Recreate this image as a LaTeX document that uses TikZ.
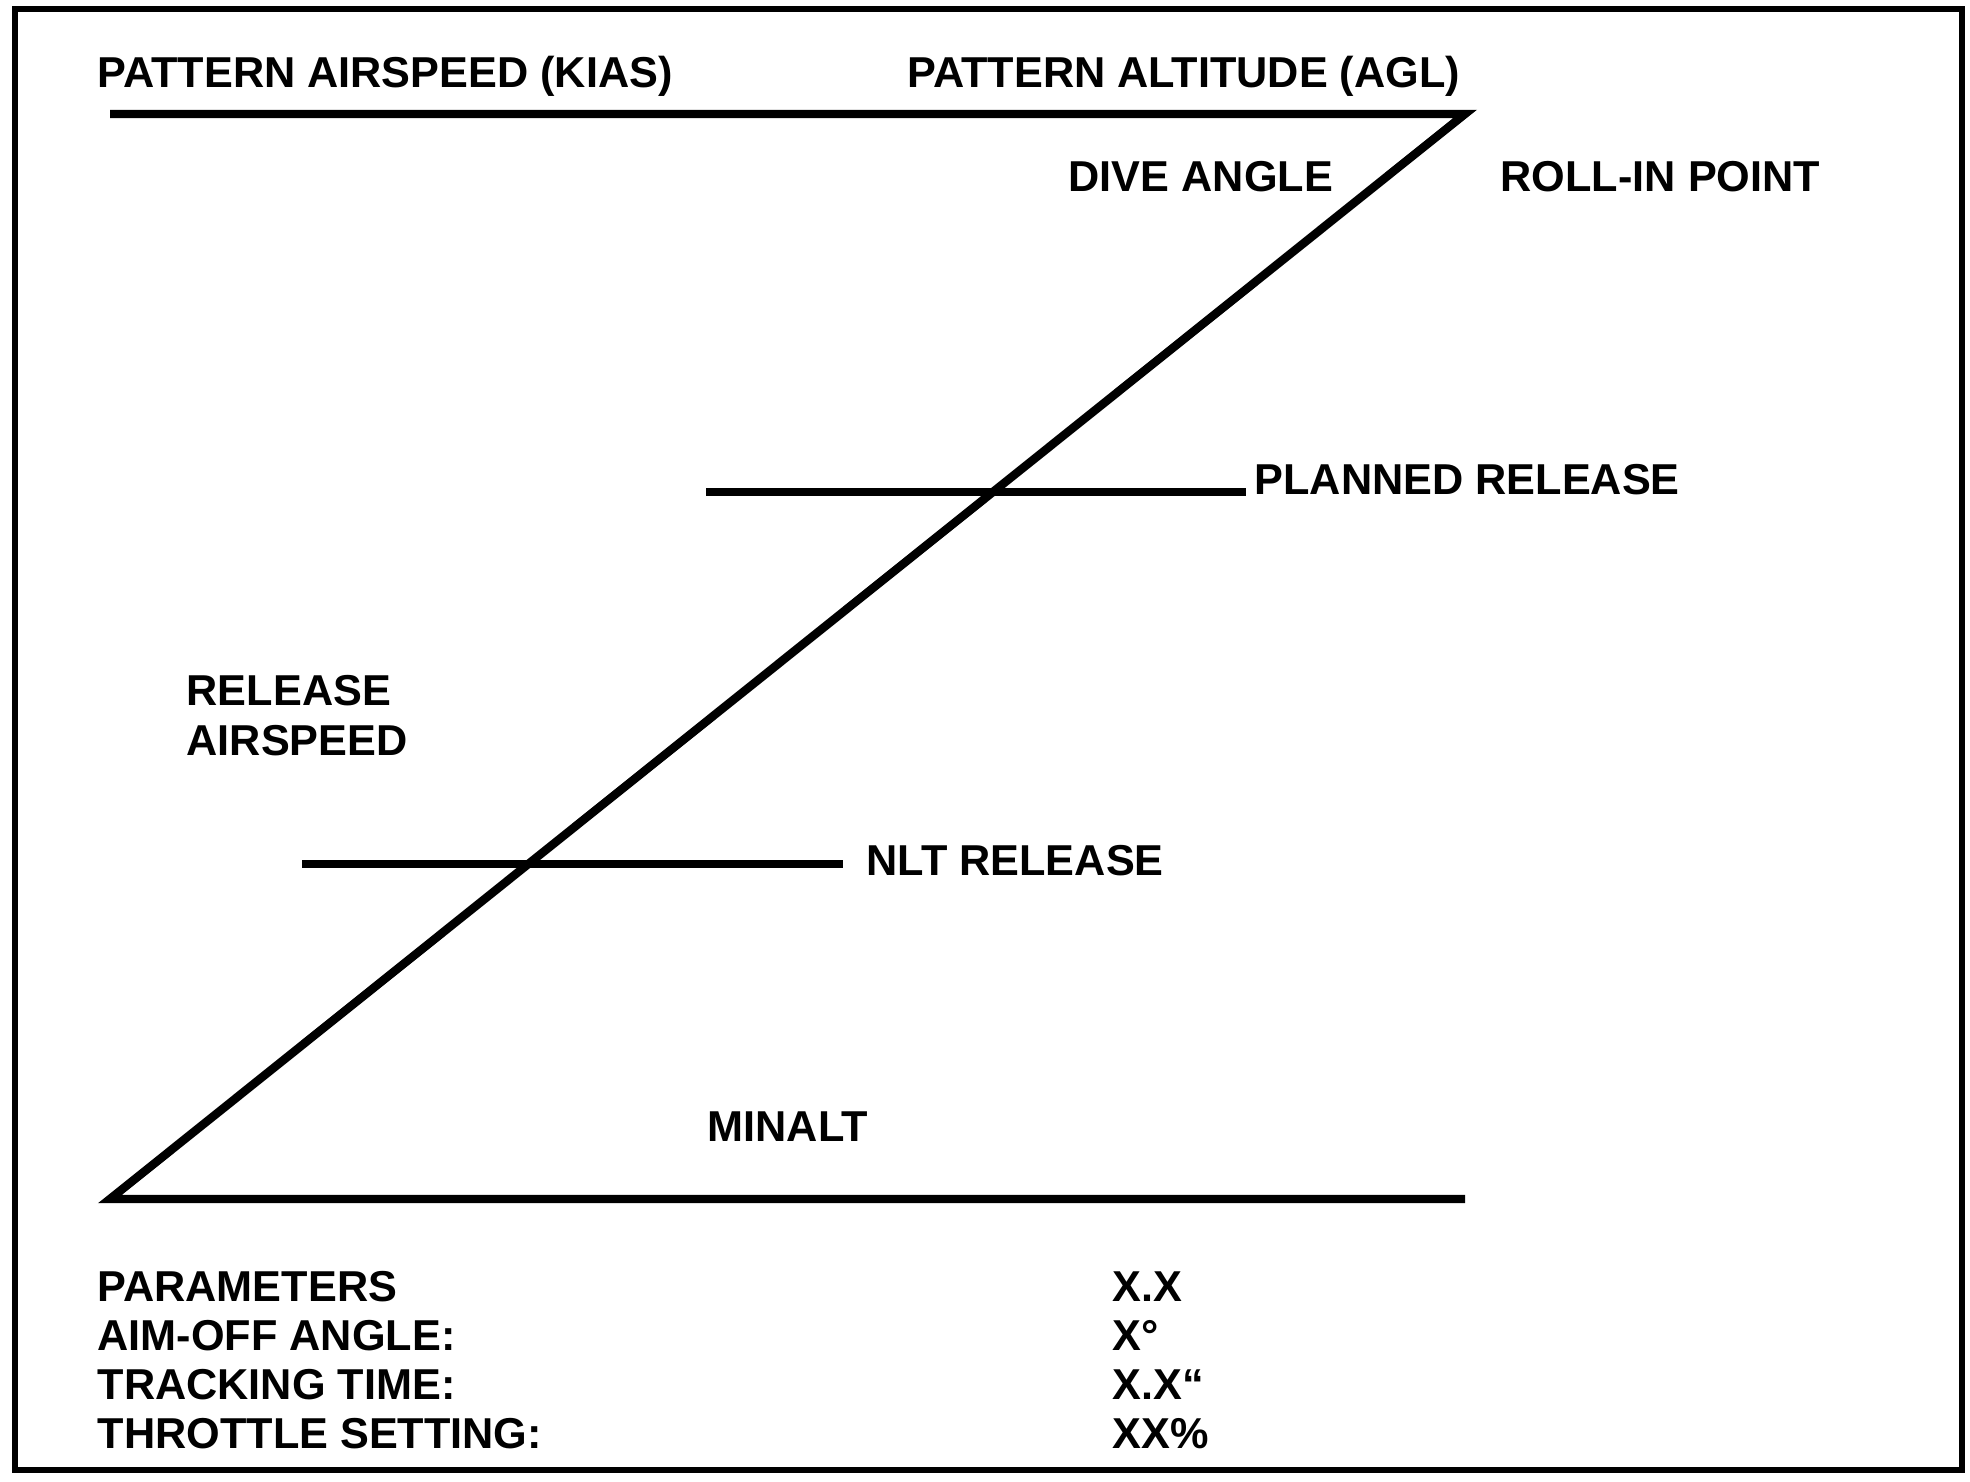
\documentclass[tikz,border=0pt]{standalone}
\usepackage{fontspec}
\setmainfont{Liberation Sans}
\usetikzlibrary{positioning}

\begin{document}
\begin{tikzpicture}[label_text/.style={anchor=base west,inner sep=0pt,font=\fontsize{12.3}{14}\selectfont\bfseries},
		main_line/.style={line width=2.4pt}]
		
		\useasboundingbox (0,0) rectangle (19.70,14.82);
		\draw[line width=1.5pt] (0.15,0.12) rectangle (19.62,14.73);
		
		\coordinate (top_left) at (1.10,13.68);
		\coordinate (rollin) at (14.65,13.68);
		\coordinate (bottom_left) at (1.10,2.83);
		\coordinate (bottom_right) at (14.65,2.83);
		\coordinate (planned_a) at (7.06,9.90);
		\coordinate (planned_b) at (12.46,9.90);
		\coordinate (nlt_a) at (3.02,6.18);
		\coordinate (nlt_b) at (8.43,6.18);
		
		\node[label_text] (airspeed) at (0.97,13.94) {PATTERN AIRSPEED (KIAS)};
		\node[label_text] (altitude) at (9.07,13.94) {PATTERN ALTITUDE (AGL)};
		\node[label_text] (dive) at (10.68,12.90) {DIVE ANGLE};
		\node[label_text] (rollin_text) at (15.00,12.90) {ROLL-IN POINT};
		\node[label_text] (planned) at (12.54,9.87) {PLANNED RELEASE};
		\node[label_text] (rel1) at (1.86,7.76) {RELEASE};
		\node[label_text] (rel2) at (1.86,7.26) {AIRSPEED};
		\node[label_text] (nlt) at (8.66,6.06) {NLT RELEASE};
		\node[label_text] (minalt) at (7.07,3.40) {MINALT};
		
		\node[label_text] (par) at (0.97,1.80) {PARAMETERS};
		\node[label_text] (aim) at (0.97,1.31) {AIM-OFF ANGLE:};
		\node[label_text] (track) at (0.97,0.82) {TRACKING TIME:};
		\node[label_text] (throttle) at (0.97,0.33) {THROTTLE SETTING:};
		\node[label_text] (par_v) at (11.12,1.80) {X.X};
		\node[label_text] (aim_v) at (11.12,1.31) {X°};
		\node[label_text] (track_v) at (11.12,0.82) {X.X“};
		\node[label_text] (throttle_v) at (11.12,0.33) {XX\%};
		
		\draw[main_line,line join=miter] (top_left) -- (rollin) -- (bottom_left) -- (bottom_right);
		\draw[main_line] (planned_a) -- (planned_b);
		\draw[main_line] (nlt_a) -- (nlt_b);
		\end{tikzpicture}
\end{document}
